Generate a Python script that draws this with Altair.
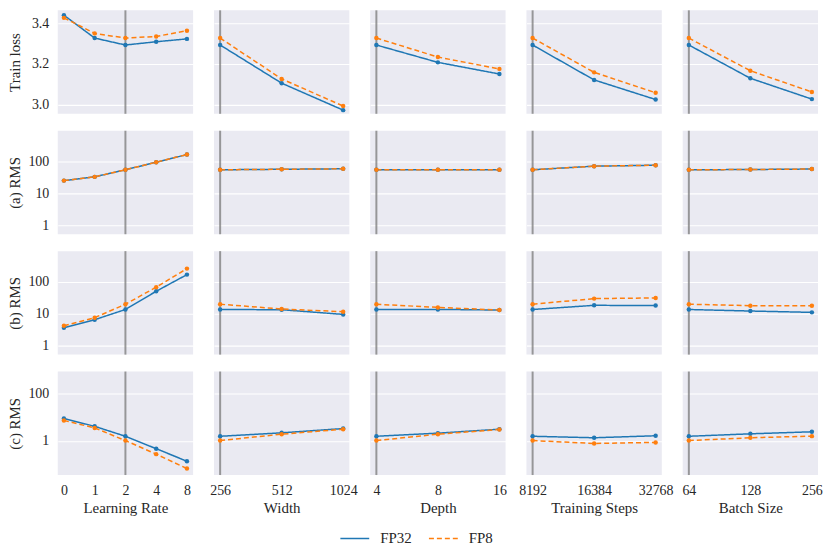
import altair as alt
import pandas as pd

# ---------------- data ----------------
columns = ["Learning Rate", "Width", "Depth", "Training Steps", "Batch Size"]
x_values = [
    ["0", "1", "2", "4", "8"],
    ["256", "512", "1024"],
    ["4", "8", "16"],
    ["8192", "16384", "32768"],
    ["64", "128", "256"],
]
baseline = ["2", "256", "4", "8192", "64"]
row_titles = ["Train loss", "(a) RMS", "(b) RMS", "(c) RMS"]
series = ["FP32", "FP8"]

loss_fp32 = [[3.439, 3.327, 3.293, 3.309, 3.323], [3.293, 3.106, 2.974], [3.293, 3.208, 3.151],
             [3.293, 3.122, 3.026], [3.293, 3.130, 3.028]]
loss_fp8 = [[3.426, 3.350, 3.327, 3.335, 3.363], [3.327, 3.127, 2.994], [3.327, 3.234, 3.176],
            [3.327, 3.159, 3.059], [3.327, 3.167, 3.063]]
rms_a_fp32 = [[24.8, 32.5, 54, 93, 161], [54, 56, 58], [54, 54, 54], [54, 70, 75], [54, 55, 57]]
rms_a_fp8 = [[24.8, 32.5, 54, 93, 161], [54, 56, 58], [54, 54, 54], [54, 70, 75], [54, 55, 57]]
rms_b_fp32 = [[3.67, 6.5, 13.5, 50, 165], [13.5, 13.3, 9.5], [13.5, 13.6, 13.0], [13.5, 18.2, 18.0],
              [13.5, 12.1, 11.0]]
rms_b_fp8 = [[4.2, 7.5, 19.7, 67, 254], [19.7, 14.0, 11.5], [19.7, 15.7, 13.0], [19.7, 29.5, 31.0],
             [19.7, 17.8, 17.8]]
rms_c_fp32 = [[8.8, 4.1, 1.55, 0.46, 0.135], [1.55, 2.17, 3.3], [1.55, 2.1, 3.1], [1.55, 1.34, 1.63],
              [1.55, 1.97, 2.4]]
rms_c_fp8 = [[7.3, 3.5, 1.02, 0.27, 0.066], [1.02, 1.9, 3.1], [1.02, 1.9, 3.0], [1.02, 0.77, 0.85],
             [1.02, 1.34, 1.57]]

rows = [(loss_fp32, loss_fp8), (rms_a_fp32, rms_a_fp8), (rms_b_fp32, rms_b_fp8), (rms_c_fp32, rms_c_fp8)]

y_domains = [[2.956, 3.463], [0.53, 890], [0.53, 890], [0.035, 870]]
y_ticks = [[3.0, 3.2, 3.4], [1, 10, 100], [1, 10, 100], [1, 100]]
y_types = ["linear", "log", "log", "log"]
y_formats = [".1f", "d", "d", "d"]

# ---------------- styling ----------------
FONT = "Liberation Serif"
TXT = "#262626"
W, H = 136, 104
colors = ["#1f77b4", "#ff7f0e"]
dashes = [[1, 0], [5, 3]]

legend = alt.Legend(
    title=None, orient="none", legendX=283, legendY=515, direction="horizontal",
    symbolType="stroke", symbolSize=840, symbolStrokeWidth=1.5,
    labelFontSize=15, labelFont=FONT, labelColor=TXT, labelOffset=10, columnPadding=14,
)
color_enc = alt.Color("series:N", scale=alt.Scale(domain=series, range=colors), legend=legend)
dash_enc = alt.StrokeDash("series:N", scale=alt.Scale(domain=series, range=dashes), legend=legend)


def panel(r, c):
    fp32, fp8 = rows[r]
    xs = x_values[c]
    recs = []
    for s, vals in zip(series, (fp32[c], fp8[c])):
        for xv, v in zip(xs, vals):
            recs.append({"x": xv, "v": v, "series": s})
    df = pd.DataFrame(recs)
    pad = 0.2 if len(xs) == 5 else 0.1
    xscale = alt.Scale(type="point", domain=xs, padding=pad)
    yscale = alt.Scale(type=y_types[r], domain=y_domains[r], nice=False, zero=False)

    if r == 3:
        xaxis = alt.Axis(title=columns[c], labelAngle=0, ticks=False, domain=False, labelPadding=9,
                         titlePadding=3, labelFontSize=14, titleFontSize=15, labelFont=FONT,
                         titleFont=FONT, titleFontWeight="normal", gridColor="white",
                         gridWidth=1.1, labelColor=TXT, titleColor=TXT)
    else:
        xaxis = alt.Axis(title=None, labels=False, ticks=False, domain=False, minExtent=0,
                         maxExtent=0, gridColor="white", gridWidth=1.1)
    if c == 0:
        yaxis = alt.Axis(title=row_titles[r], values=y_ticks[r], format=y_formats[r], ticks=False,
                         domain=False, labelPadding=9, minExtent=30, maxExtent=30, titlePadding=5,
                         labelFontSize=14, titleFontSize=15, labelFont=FONT, titleFont=FONT,
                         titleFontWeight="normal", gridColor="white", gridWidth=1.1,
                         labelColor=TXT, titleColor=TXT)
    else:
        yaxis = alt.Axis(title=None, values=y_ticks[r], labels=False, ticks=False, domain=False,
                         minExtent=0, maxExtent=0, gridColor="white", gridWidth=1.1)

    base = alt.Chart(df).encode(
        x=alt.X("x:O", scale=xscale, axis=xaxis, sort=xs),
        y=alt.Y("v:Q", scale=yscale, axis=yaxis),
        color=color_enc,
    )
    rule = alt.Chart(pd.DataFrame({"x": [baseline[c]]})).mark_rule(
        color="#7a7a7a", strokeWidth=2, opacity=0.75
    ).encode(x=alt.X("x:O", scale=xscale, axis=xaxis, sort=xs))
    lines = base.mark_line(strokeWidth=1.5).encode(strokeDash=dash_enc)
    pts = base.mark_point(filled=True, size=20, opacity=1)
    return alt.layer(rule, lines, pts).properties(width=W, height=H)


grid = alt.concat(
    *[panel(r, c) for r in range(4) for c in range(5)],
    columns=5, spacing={"row": 17, "column": 21}, bounds="flush",
)

chart = grid.configure(padding=0, font=FONT).configure_view(
    fill="#EAEAF2", stroke=None
).configure_axis(labelFont=FONT, titleFont=FONT)

chart.save("out.html", embed_options={"renderer": "svg", "actions": False})
